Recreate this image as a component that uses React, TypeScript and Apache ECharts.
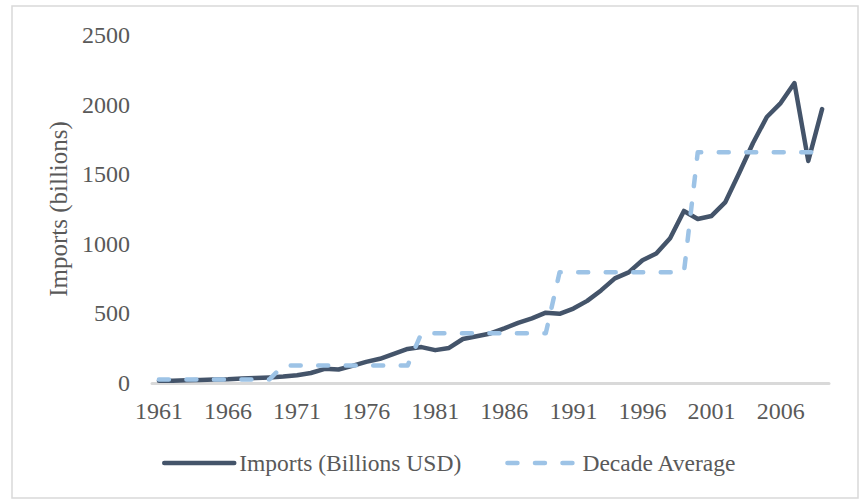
import React, { useEffect, useRef } from "react";
import * as echarts from "echarts";

const years: string[] = [];
for (let y = 1961; y <= 2009; y++) years.push(String(y));

const imports: number[] = [
  16, 17, 19, 21, 25, 27, 33, 36, 40,
  46, 56, 72, 102, 97, 123, 152, 174, 210, 245,
  258, 236, 252, 316, 336, 356, 392, 432, 464, 505,
  497, 535, 590, 665, 752, 795, 882, 930, 1040, 1236,
  1178, 1200, 1300, 1509, 1724, 1911, 2011, 2155, 1595, 1968,
];

const decadeStarts: number[] = [1961, 1970, 1980, 1990, 2000];
const decadeAverages: number[] = [26, 125, 357, 795, 1657];

const yTicks = { min: 0, max: 2500, interval: 500 };

const FONT = '"Liberation Serif", "Times New Roman", serif';
const TEXT = "#595959";
const DARK = "#44546A";
const LIGHT = "#9DC3E6";
const DASH = [10, 17.5];

export default function App() {
  const ref = useRef<HTMLDivElement>(null);
  useEffect(() => {
    if (!ref.current) return;
    const chart = echarts.init(ref.current, undefined, { renderer: "svg" });
    const decadeSeries = years.map((y) => {
      const yr = Number(y);
      let idx = 0;
      for (let i = 0; i < decadeStarts.length; i++) if (yr >= decadeStarts[i]) idx = i;
      return decadeAverages[idx];
    });
    chart.setOption({
      animation: false,
      backgroundColor: "#ffffff",
      graphic: [
        {
          type: "rect",
          shape: { x: 12, y: 6, width: 846, height: 492 },
          style: { fill: "none", stroke: "#D9D9D9", lineWidth: 1.5 },
          silent: true,
        },
      ],
      grid: { left: 152, right: 35, top: 35, bottom: 119, containLabel: false },
      legend: {
        left: 157,
        top: 446,
        itemWidth: 70,
        itemHeight: 14,
        itemGap: 44,
        itemStyle: { opacity: 0 },
        textStyle: { fontFamily: FONT, fontSize: 23.5, color: TEXT },
        data: [
          {
            name: "Imports (Billions USD)",
            itemStyle: { opacity: 0 },
            lineStyle: { color: DARK, width: 4.5, cap: "round" },
          },
          {
            name: "Decade Average",
            itemStyle: { opacity: 0 },
            lineStyle: { color: LIGHT, width: 4.5, type: DASH, cap: "round" },
          },
        ],
      },
      xAxis: {
        type: "category",
        data: years,
        boundaryGap: true,
        axisLine: { show: true, lineStyle: { color: "#D9D9D9", width: 3 } },
        axisTick: { show: false },
        axisLabel: {
          interval: 4,
          fontFamily: FONT,
          fontSize: 24,
          color: TEXT,
          margin: 16,
        },
        splitLine: { show: false },
      },
      yAxis: {
        type: "value",
        min: yTicks.min,
        max: yTicks.max,
        interval: yTicks.interval,
        name: "Imports (billions)",
        nameLocation: "middle",
        nameRotate: 90,
        nameGap: 77,
        nameTextStyle: { fontFamily: FONT, fontSize: 25, color: TEXT },
        axisLine: { show: false },
        axisTick: { show: false },
        splitLine: { show: false },
        axisLabel: {
          fontFamily: FONT,
          fontSize: 24,
          color: TEXT,
          margin: 22,
          formatter: (v: number) => String(v),
        },
      },
      series: [
        {
          name: "Imports (Billions USD)",
          type: "line",
          data: imports,
          symbol: "none",
          z: 3,
          lineStyle: { color: DARK, width: 4.5, cap: "round", join: "round" },
          itemStyle: { color: DARK },
        },
        {
          name: "Decade Average",
          type: "line",
          data: decadeSeries,
          symbol: "none",
          z: 4,
          lineStyle: { color: LIGHT, width: 4.5, type: DASH, cap: "round", join: "round" },
          itemStyle: { color: LIGHT },
        },
      ],
    });
    return () => chart.dispose();
  }, []);
  return (
    <div
      ref={ref}
      style={{ position: "fixed", left: 0, top: 0, width: 864, height: 502, background: "#fff" }}
    />
  );
}
